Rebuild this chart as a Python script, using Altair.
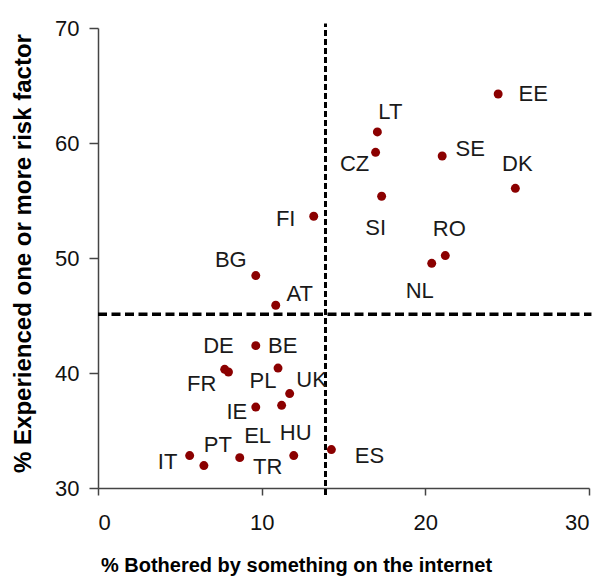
import altair as alt
import pandas as pd

# ---- data ----
countries = ["EE", "LT", "CZ", "SE", "DK", "SI", "FI", "RO", "NL", "BG", "AT",
             "BE", "DE", "FR", "PL", "UK", "EL", "IE", "HU", "PT", "IT", "TR", "ES"]
bothered = [24.45, 17.07, 16.96, 21.03, 25.50, 17.33, 13.18, 21.22, 20.39, 9.64, 10.86,
            9.64, 7.97, 7.74, 11.00, 11.71, 11.22, 9.64, 11.96, 6.47, 5.60, 8.66, 14.26]
risk = [64.26, 60.96, 59.19, 58.87, 56.06, 55.37, 53.63, 50.21, 49.54, 48.47, 45.89,
        42.38, 40.09, 40.32, 40.43, 38.21, 37.19, 37.04, 32.82, 31.95, 32.82, 32.64, 33.34]

x_ticks = [0, 10, 20, 30]
y_ticks = [30, 40, 50, 60, 70]
x_title = "% Bothered by something on the internet"
y_title = "% Experienced one or more risk factor"

# reference (average) lines
v_line_x = [13.9]
v_line_y = [29.4]
v_line_y2 = [70.4]
h_line_y = [45.1]
h_line_x = [0]
h_line_x2 = [30.15]

# label placement (pixel offsets from each dot) - styling only
label_offsets = {
    "EE": (35, 0), "LT": (13, -20), "CZ": (-21, 12), "SE": (28, -7), "DK": (2, -24),
    "SI": (-6, 32), "FI": (-28, 3), "RO": (4, -27), "NL": (-12, 28), "BG": (-25, -16),
    "AT": (24, -11), "BE": (27, 0), "DE": (-10, -26), "FR": (-23, 15), "PL": (-15, 13),
    "UK": (22, -14), "EL": (-24, 31), "IE": (-19, 5), "HU": (2, -23), "PT": (14, -21),
    "IT": (-22, 6), "TR": (28, 9), "ES": (38, 6),
}

df = pd.DataFrame({"country": countries, "bothered": bothered, "risk": risk})
vdf = pd.DataFrame({"bothered": v_line_x, "risk": v_line_y, "risk2": v_line_y2})
hdf = pd.DataFrame({"risk": h_line_y, "bothered": h_line_x, "bothered2": h_line_x2})

FONT = "Liberation Sans"
xs = alt.Scale(domain=[0, 30], nice=False, zero=False)
ys = alt.Scale(domain=[30, 70], nice=False, zero=False)

x_axis = alt.Axis(
    values=x_ticks, title=x_title, grid=False,
    domainColor="#444444", domainWidth=1.5, tickColor="#444444", tickWidth=1.5, tickSize=7,
    labelFont=FONT, labelFontSize=22, labelColor="#111111", labelPadding=17,
    titleFont=FONT, titleFontSize=20, titleFontWeight="bold", titleColor="#000000",
    titleX=198, titleY=67, titleAlign="center", titleBaseline="top",
)
y_axis = alt.Axis(
    values=y_ticks, title=y_title, grid=False,
    domainColor="#444444", domainWidth=1.5, tickColor="#444444", tickWidth=1.5, tickSize=9,
    labelFont=FONT, labelFontSize=22, labelColor="#111111", labelPadding=10,
    titleFont=FONT, titleFontSize=24, titleFontWeight="bold", titleColor="#000000",
    titleAngle=270, titleX=-75, titleY=225, titleAlign="center", titleBaseline="middle",
)

X = alt.X("bothered:Q", scale=xs, axis=x_axis)
Y = alt.Y("risk:Q", scale=ys, axis=y_axis)

points = alt.Chart(df).mark_circle(size=80, color="#8B0000", opacity=1).encode(x=X, y=Y)

vrule = alt.Chart(vdf).mark_rule(color="#000000", strokeWidth=3, strokeDash=[6, 3], clip=False).encode(
    x=X, y=Y, y2="risk2:Q",
)
hrule = alt.Chart(hdf).mark_rule(color="#000000", strokeWidth=3.5, strokeDash=[9, 4.5], clip=False).encode(
    y=Y, x=X, x2="bothered2:Q",
)

base = alt.Chart(df)
labels = []
for c in countries:
    dx, dy = label_offsets[c]
    labels.append(
        base.transform_filter(alt.datum.country == c)
        .mark_text(dx=dx, dy=dy, font=FONT, fontSize=22, color="#1a1a1a",
                   align="center", baseline="middle")
        .encode(x=X, y=Y, text="country:N")
    )

chart = alt.layer(vrule, hrule, points, *labels).properties(
    width=491, height=460,
    background="white",
    autosize=alt.AutoSizeParams(type="none"),
    padding={"left": 90, "top": 20, "right": 5, "bottom": 90},
).configure_view(stroke=None)

chart.save("out.html", embed_options={"renderer": "svg", "actions": False})
